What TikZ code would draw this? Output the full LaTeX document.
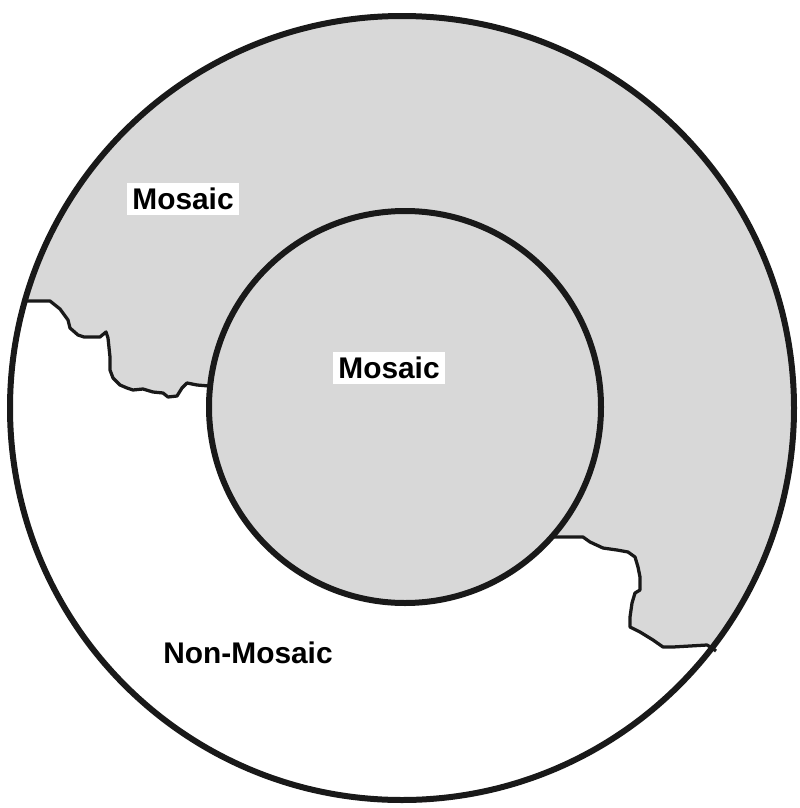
\documentclass[tikz,border=0pt]{standalone}
\usepackage{fontspec}
\setmainfont{Liberation Sans}
\usepackage{tikz}
\definecolor{mosaicgray}{RGB}{216,216,216}
\tikzset{
    ring/.style={draw=black!90, line width=0.12cm},
    edge/.style={draw=black!90, line width=0.065cm, line join=round},
    label/.style={font=\fontsize{17}{20}\selectfont\bfseries, inner sep=0.1cm}
}
\newcommand{\leftedge}{(25,301) -- (50,301) -- (60,309) -- (68,320) -- (70,328) -- (78,335) -- (84,337) -- (100,337) -- (106,332) -- (108,338) -- (110,357) -- (110,370) -- (113,378) -- (120,385) -- (127,388) -- (133,390) -- (143,389) -- (153,392) -- (163,393) -- (168,397) -- (177,396) -- (182,388) -- (187,383) -- (197,385) -- (209,386)}
\newcommand{\rightedge}{(552,537) -- (583,537) -- (590,542) -- (603,548) -- (617,550) -- (628,552) -- (635,557) -- (638,567) -- (640,577) -- (640,590) -- (635,593) -- (632,603) -- (630,617) -- (630,627) -- (640,632) -- (653,640) -- (663,647) -- (673,647) -- (690,646) -- (707,645) -- (712,648) -- (716,651)}

\begin{document}
\begin{tikzpicture}[x=0.02cm, y=-0.02cm]
    \useasboundingbox (0,0) rectangle (799,808);

    \coordinate (outer) at (402,408);
    \coordinate (inner) at (405,407);

    % Shaded ring, then the non-mosaic part cut out
    \fill[mosaicgray] (outer) circle (392);
    \begin{scope}
        \clip (outer) circle (392);
        \fill[white] \leftedge -- \rightedge -- (810,700) -- (810,820) -- (-10,820) -- (-10,301) -- cycle;
    \end{scope}
    \fill[mosaicgray] (inner) circle (196);

    % Borders
    \draw[edge] \leftedge;
    \draw[edge] \rightedge;
    \draw[ring] (outer) circle (392);
    \draw[ring] (inner) circle (196);

    % Labels
    \node[label, fill=white] (ringlabel) at (183,199) {Mosaic};
    \node[label, fill=white] (corelabel) at (389,368) {Mosaic};
    \node[label] (nonlabel) at (248,653) {Non-Mosaic};
\end{tikzpicture}
\end{document}
